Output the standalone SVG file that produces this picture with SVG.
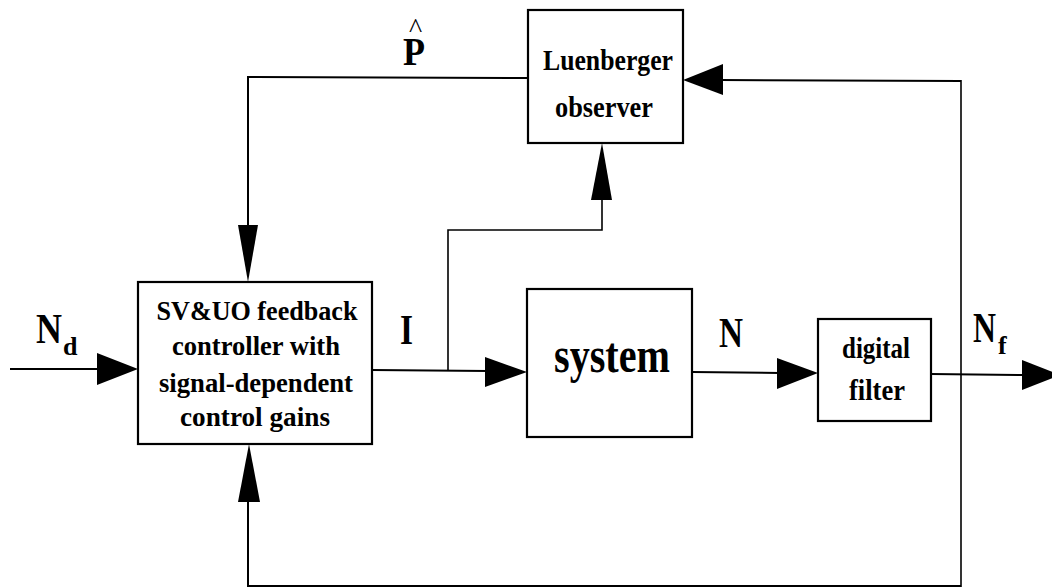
<svg xmlns="http://www.w3.org/2000/svg" width="1052" height="588" viewBox="0 0 1052 588">
<style>
.box{fill:#fff;stroke:#000;stroke-width:2.2}
.ln{fill:none;stroke:#000;stroke-width:2}
.thin{fill:none;stroke:#000;stroke-width:1.6}
.ah{fill:#000;stroke:none}
text{font-family:"Liberation Serif","Times New Roman",serif;font-weight:bold;fill:#000}
.lbl{font-size:42px}
.sub{font-size:26px}
.t27{font-size:27px;text-anchor:middle}
.t30{font-size:30px;text-anchor:middle}
.t28{font-size:29px;text-anchor:middle}
</style>
<rect width="1052" height="588" fill="#fff"/>
<g id="connectors">
  <line class="ln" x1="10" y1="369" x2="100" y2="369"/>
  <polygon class="ah" points="97,353 138,369 97,385"/>
  <line class="ln" x1="372" y1="370" x2="488" y2="371"/>
  <polygon class="ah" points="485,357 527,372 485,387"/>
  <polyline class="thin" points="448,370 448,230 602,230 602,198"/>
  <polygon class="ah" points="591,200 602,143 612,200"/>
  <line class="ln" x1="692" y1="372" x2="780" y2="373"/>
  <polygon class="ah" points="777,358 818,373 777,389"/>
  <line class="ln" x1="931" y1="374" x2="1025" y2="375"/>
  <polygon class="ah" points="1022,360 1060,375 1022,390"/>
  <line class="thin" x1="961" y1="80" x2="961" y2="587"/>
  <line class="ln" x1="961" y1="81" x2="720" y2="80"/>
  <polygon class="ah" points="723,64 683,80 723,95"/>
  <polyline class="ln" points="961,586 248,586 248,500"/>
  <polygon class="ah" points="238,502 249,444 260,502"/>
  <polyline class="ln" points="528,78 248,77 248,228"/>
  <polygon class="ah" points="238,225 248,282 258,225"/>
</g>
<g id="observer">
  <rect class="box" x="528" y="10" width="155" height="133"/>
  <text class="t30" x="608" y="70" textLength="130" lengthAdjust="spacingAndGlyphs">Luenberger</text>
  <text class="t30" x="604" y="117" textLength="98" lengthAdjust="spacingAndGlyphs">observer</text>
</g>
<g id="controller">
  <rect class="box" x="138" y="282" width="234" height="162"/>
  <text class="t27" x="257" y="320" textLength="201" lengthAdjust="spacingAndGlyphs">SV&amp;UO feedback</text>
  <text class="t27" x="256" y="355" textLength="168" lengthAdjust="spacingAndGlyphs">controller with</text>
  <text class="t27" x="256" y="392" textLength="194" lengthAdjust="spacingAndGlyphs">signal-dependent</text>
  <text class="t27" x="255" y="426" textLength="150" lengthAdjust="spacingAndGlyphs">control gains</text>
</g>
<g id="system">
  <rect class="box" x="527" y="289" width="165" height="148"/>
  <text x="612" y="372" font-size="50" text-anchor="middle" textLength="116" lengthAdjust="spacingAndGlyphs">system</text>
</g>
<g id="filter">
  <rect class="box" x="818" y="319" width="113" height="102"/>
  <text class="t28" x="876" y="358" textLength="68" lengthAdjust="spacingAndGlyphs">digital</text>
  <text class="t28" x="877" y="400" textLength="56" lengthAdjust="spacingAndGlyphs">filter</text>
</g>
<g id="labels">
  <text font-size="40"><tspan x="403" y="65" textLength="22" lengthAdjust="spacingAndGlyphs">P</tspan><tspan x="409" y="37" font-size="28" font-weight="normal">^</tspan></text>
  <text class="lbl"><tspan x="36" y="343" textLength="26" lengthAdjust="spacingAndGlyphs">N</tspan><tspan class="sub" x="63" y="355">d</tspan></text>
  <text class="lbl" x="400" y="344" textLength="13" lengthAdjust="spacingAndGlyphs">I</text>
  <text class="lbl" x="719" y="347" textLength="24" lengthAdjust="spacingAndGlyphs">N</text>
  <text class="lbl"><tspan x="973" y="342" textLength="23" lengthAdjust="spacingAndGlyphs">N</tspan><tspan class="sub" x="998" y="354">f</tspan></text>
</g>
</svg>
